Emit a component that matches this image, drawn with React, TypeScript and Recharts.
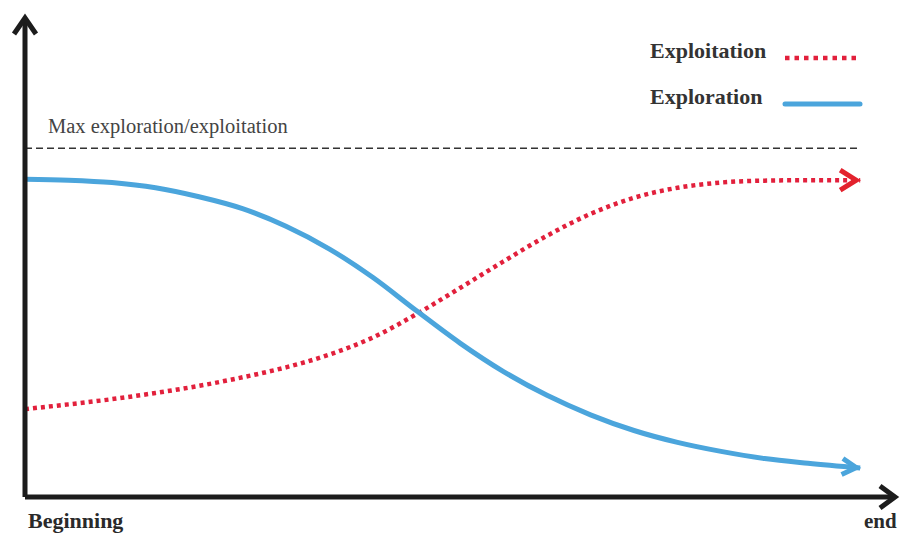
import React from 'react';
import { LineChart, Line, XAxis, YAxis, ReferenceLine, Legend } from 'recharts';

// progress along the run (0 = beginning, 100 = end of axis)
const times = [0, 5, 10, 15, 20, 25, 30, 35, 40, 45, 50, 55, 60, 65, 70, 75, 80, 85, 90, 96];
const exploration = [
  66.9, 66.7, 66.2, 65.1, 63.2, 60.7, 57.0, 52.2, 46.2, 39.2, 32.4, 26.4, 21.4, 17.3, 14.0, 11.5, 9.6,
  8.1, 7.1, 6.1,
];
const exploitation = [
  18.5, 19.5, 20.6, 21.9, 23.4, 25.2, 27.3, 30.0, 33.6, 38.5, 44.0, 49.6, 55.0, 59.6, 63.0, 65.1, 66.2,
  66.6, 66.7, 66.7,
];
const maxLevel = 73.4;
const maxLabel = 'Max exploration/exploitation';
const axisTicks = [0, 100];
const axisLabels = ['Beginning', 'end'];

const data = times.map((t, i) => ({
  t,
  exploration: exploration[i],
  exploitation: exploitation[i],
}));

const SERIF = '"Liberation Serif", "DejaVu Serif", serif';
const RED = '#e2203c';
const BLUE = '#4ba5dc';
const AXIS = '#1c1c1c';

const EdgeTick = (props: any) => {
  const { x, y, index } = props;
  const first = index === 0;
  return (
    <text
      x={first ? x + 3 : x - 31}
      y={y + (first ? 31 : 31)}
      textAnchor="start"
      fontFamily={SERIF}
      fontSize={first ? 22 : 21}
      fontWeight="bold"
      fill="#2a2a2a"
    >
      {axisLabels[index]}
    </text>
  );
};

const MaxLabel = (props: any) => {
  const vb = props.viewBox || { x: 25, y: 148 };
  return (
    <text x={vb.x + 23} y={vb.y - 15} fontFamily={SERIF} fontSize={20.5} fill="#444">
      {maxLabel}
    </text>
  );
};

const renderLegend = (props: any) => {
  const items = props.payload || [];
  return (
    <svg width={240} height={90}>
      {items.map((entry: any, i: number) => {
        const y = 28 + i * 46;
        const dotted = entry.dataKey === 'exploitation';
        return (
          <g key={entry.value}>
            <text x={10} y={y} fontFamily={SERIF} fontSize={22} fontWeight="bold" fill="#333">
              {entry.value}
            </text>
            <line
              x1={145}
              x2={dotted ? 218 : 220}
              y1={y}
              y2={y}
              stroke={entry.color}
              strokeWidth={dotted ? 4.5 : 5}
              strokeDasharray={dotted ? '4.5 5' : undefined}
              strokeLinecap={dotted ? 'butt' : 'round'}
            />
          </g>
        );
      })}
    </svg>
  );
};

export default function App() {
  return (
    <div style={{ position: 'absolute', left: 0, top: 0, background: '#fff' }}>
      <LineChart width={902} height={533} data={data} margin={{ top: 22, right: 7, bottom: 6, left: 15 }}>
        <defs>
          <marker id="yArrow" markerUnits="userSpaceOnUse" markerWidth={1} markerHeight={1} refX={0} refY={0} orient="auto-start-reverse" overflow="visible">
            <path d="M0,0 L4,0 M-12,-11 L4,0 L-12,11" fill="none" stroke={AXIS} strokeWidth={5} />
          </marker>
          <marker id="xArrow" markerUnits="userSpaceOnUse" markerWidth={1} markerHeight={1} refX={0} refY={0} orient="auto" overflow="visible">
            <path d="M-15,-11 L0,0 L-15,11" fill="none" stroke={AXIS} strokeWidth={5} />
          </marker>
          <marker id="redArrow" markerUnits="userSpaceOnUse" markerWidth={1} markerHeight={1} refX={0} refY={0} orient="auto" overflow="visible">
            <path d="M-20,-10 L-4,0 L-20,10" fill="none" stroke="#e3222d" strokeWidth={5} />
          </marker>
          <marker id="blueArrow" markerUnits="userSpaceOnUse" markerWidth={1} markerHeight={1} refX={0} refY={0} orient="auto" overflow="visible">
            <path d="M-18,-8 L-4,0 L-18,8" fill="none" stroke={BLUE} strokeWidth={5} />
          </marker>
        </defs>
        <XAxis
          type="number"
          dataKey="t"
          domain={[0, 100]}
          ticks={axisTicks}
          interval={0}
          height={30}
          tickSize={0}
          tickMargin={0}
          tickLine={false}
          tick={EdgeTick}
          axisLine={{ stroke: AXIS, strokeWidth: 5, markerEnd: 'url(#xArrow)' }}
        />
        <YAxis
          type="number"
          domain={[0, 100]}
          width={10}
          tick={false}
          tickLine={false}
          axisLine={{ stroke: AXIS, strokeWidth: 5, markerStart: 'url(#yArrow)' }}
        />
        <ReferenceLine
          segment={[
            { x: 0, y: maxLevel },
            { x: 96, y: maxLevel },
          ]}
          stroke="#333"
          strokeWidth={1.5}
          strokeDasharray="7 4"
          ifOverflow="visible"
          label={<MaxLabel />}
        />
        <Line
          name="Exploitation"
          type="monotone"
          dataKey="exploitation"
          stroke={RED}
          strokeWidth={4.5}
          strokeDasharray="4 4"
          dot={false}
          activeDot={false}
          markerEnd="url(#redArrow)"
          isAnimationActive={false}
        />
        <Line
          name="Exploration"
          type="monotone"
          dataKey="exploration"
          stroke={BLUE}
          strokeWidth={5}
          dot={false}
          activeDot={false}
          markerEnd="url(#blueArrow)"
          isAnimationActive={false}
        />
        <Legend
          layout="vertical"
          align="center"
          verticalAlign="middle"
          content={renderLegend}
          wrapperStyle={{ left: 640, top: 30, width: 240, height: 90 }}
        />
      </LineChart>
    </div>
  );
}
